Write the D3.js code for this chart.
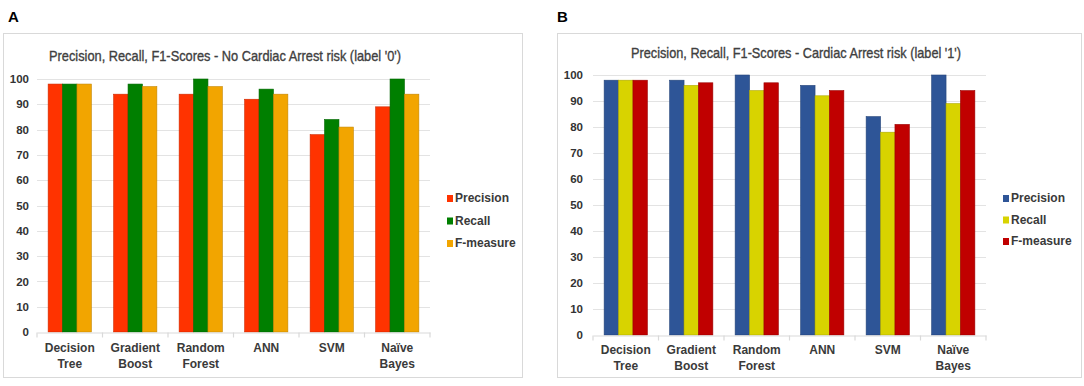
<!DOCTYPE html>
<html>
<head>
<meta charset="utf-8">
<script src="https://cdn.jsdelivr.net/npm/d3@7"></script>
<style>
  html, body { margin: 0; padding: 0; background: #fff; }
  svg { display: block; }
</style>
</head>
<body>
<svg id="chart" width="1084" height="386"></svg>
<script>
// ---- data ----
const categories = ["Decision Tree", "Gradient Boost", "Random Forest", "ANN", "SVM", "Naïve Bayes"];
const seriesNames = ["Precision", "Recall", "F-measure"];
const yTicks = [0, 10, 20, 30, 40, 50, 60, 70, 80, 90, 100];

// Panel A: No Cardiac Arrest risk (label '0')
const precisionA = [98, 94, 94, 92, 78, 89];
const recallA    = [98, 98, 100, 96, 84, 100];
const fmeasureA  = [98, 97, 97, 94, 81, 94];

// Panel B: Cardiac Arrest risk (label '1')
const precisionB = [98, 98, 100, 96, 84, 100];
const recallB    = [98, 96, 94, 92, 78, 89];
const fmeasureB  = [98, 97, 97, 94, 81, 94];

const titleA = "Precision, Recall, F1-Scores - No Cardiac Arrest risk (label '0')";
const titleB = "Precision, Recall, F1-Scores - Cardiac Arrest risk (label '1')";

// ---- drawing ----
const svg = d3.select("#chart");

function drawPanel(p) {
  const g = svg.append("g");
  // panel letter
  g.append("text").attr("x", p.letterX).attr("y", 22)
    .attr("font-family", "Liberation Sans, Arial, sans-serif")
    .attr("font-weight", "bold").attr("font-size", 15).attr("fill", "#000")
    .text(p.letter);
  // frame
  g.append("rect").attr("x", p.frame[0] + 0.5).attr("y", p.frame[1] + 0.5)
    .attr("width", p.frame[2] - p.frame[0]).attr("height", p.frame[3] - p.frame[1])
    .attr("fill", "#fff").attr("stroke", "#d9d9d9").attr("stroke-width", 1);
  // title
  g.append("text").attr("x", p.titleX).attr("y", p.titleY)
    .attr("text-anchor", "middle")
    .attr("font-family", "Liberation Sans Narrow, Arial Narrow, sans-serif")
    .attr("font-size", 15).attr("fill", "#404040")
    .attr("stroke", "#404040").attr("stroke-width", 0.35)
    .attr("textLength", p.titleLen).attr("lengthAdjust", "spacingAndGlyphs")
    .text(p.title);

  const x = d3.scaleBand().domain(categories).range([p.x0, p.x1])
    .paddingInner(0.34).paddingOuter(0.17);
  const xs = d3.scaleBand().domain(seriesNames).range([0, x.bandwidth()]).padding(0);
  const y = d3.scaleLinear().domain([0, 100]).range([p.yBottom, p.yTop]);

  // gridlines
  g.append("g").selectAll("line").data(yTicks.filter(d => d > 0)).join("line")
    .attr("x1", p.x0).attr("x2", p.x1)
    .attr("y1", d => Math.round(y(d)) + 0.5).attr("y2", d => Math.round(y(d)) + 0.5)
    .attr("stroke", "#e3e3e3").attr("stroke-width", 1.2);

  // y axis labels
  const yAxis = d3.axisLeft(y).tickValues(yTicks).tickSize(0).tickPadding(0);
  const ya = g.append("g").attr("transform", `translate(${p.yLabelX},0)`).call(yAxis);
  ya.select(".domain").remove();
  ya.selectAll("text").attr("font-family", "Liberation Sans, Arial, sans-serif")
    .attr("font-size", 11.5).attr("fill", "#333").attr("font-weight", "bold");

  // bars
  const seriesData = p.values.map((vals, si) => vals.map((v, ci) => ({ s: seriesNames[si], c: categories[ci], v, si })));
  g.append("g").selectAll("g").data(seriesData).join("g")
    .selectAll("rect").data(d => d).join("rect")
    .attr("x", d => x(d.c) + xs(d.s))
    .attr("y", d => y(d.v))
    .attr("width", xs.bandwidth())
    .attr("height", d => y(0) - y(d.v))
    .attr("fill", d => p.colors[d.si])
    .attr("stroke", d => d3.color(p.colors[d.si]).darker(0.6))
    .attr("stroke-width", 0.6);

  // x axis
  const xAxis = d3.axisBottom(x).tickSize(0).tickPadding(0).tickFormat("");
  const xa = g.append("g").attr("transform", `translate(0,${Math.round(y(0)) + 0.5})`).call(xAxis);
  xa.select(".domain").attr("stroke", "#d9d9d9").attr("stroke-width", 1.2);
  xa.selectAll(".tick").remove();
  // boundary ticks between categories
  const bounds = categories.map(c => x(c) - x.step() * x.paddingInner() / 2).concat([p.x1]);
  xa.selectAll("line.sep").data(bounds).join("line").attr("class", "sep")
    .attr("x1", d => d).attr("x2", d => d).attr("y1", 0).attr("y2", 5)
    .attr("stroke", "#d9d9d9").attr("stroke-width", 1.2);
  // category labels (two lines)
  const labs = g.append("g").selectAll("text").data(categories).join("text")
    .attr("x", d => x(d) + x.bandwidth() / 2)
    .attr("text-anchor", "middle")
    .attr("font-family", "Liberation Sans, Arial, sans-serif")
    .attr("font-size", 12).attr("fill", "#3a3a3a").attr("font-weight", "bold");
  labs.each(function(d) {
    const parts = d.split(" ");
    const t = d3.select(this);
    parts.forEach((w, i) => {
      t.append("tspan").attr("x", x(d) + x.bandwidth() / 2)
        .attr("y", p.labelY + i * 15.5).text(w);
    });
  });

  // legend
  const lg = g.append("g").attr("transform", `translate(${p.legendX},${p.legendY})`);
  seriesNames.forEach((s, i) => {
    const row = lg.append("g").attr("transform", `translate(0,${i * p.legendStep})`);
    row.append("rect").attr("x", 0).attr("y", -7).attr("width", 6).attr("height", 7)
      .attr("fill", p.colors[i]);
    row.append("text").attr("x", 8).attr("y", 0)
      .attr("font-family", "Liberation Sans, Arial, sans-serif")
      .attr("font-size", 12).attr("fill", "#3a3a3a").attr("font-weight", "bold")
      .text(s);
  });
}

drawPanel({
  letter: "A", letterX: 8,
  frame: [3, 33, 522, 377],
  title: titleA, titleX: 225, titleY: 61, titleLen: 352,
  x0: 37, x1: 430, yTop: 79, yBottom: 332, yLabelX: 29,
  labelY: 352,
  values: [precisionA, recallA, fmeasureA],
  colors: ["#FF3300", "#007F00", "#F2A500"],
  legendX: 447, legendY: 202, legendStep: 22.5
});

drawPanel({
  letter: "B", letterX: 557,
  frame: [557, 33, 1081, 377],
  title: titleB, titleX: 796, titleY: 58, titleLen: 330,
  x0: 593, x1: 986, yTop: 75, yBottom: 335, yLabelX: 583,
  labelY: 354,
  values: [precisionB, recallB, fmeasureB],
  colors: ["#2E5597", "#D8D300", "#C00000"],
  legendX: 1003, legendY: 202, legendStep: 21.5
});
</script>
</body>
</html>
